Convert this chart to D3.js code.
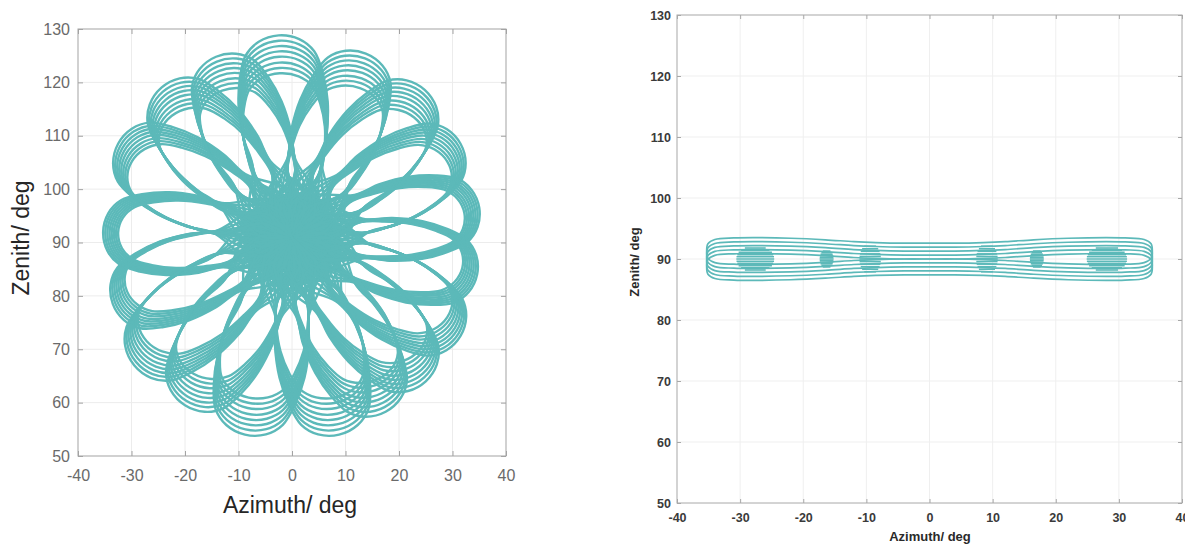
<!DOCTYPE html>
<html>
<head>
<meta charset="utf-8">
<script src="https://cdn.jsdelivr.net/npm/d3@7"></script>
<style>
  body { margin: 0; background: #fff; }
  svg { display: block; font-family: "Liberation Sans", Arial, sans-serif; }
</style>
</head>
<body>
<svg id="chart" width="1185" height="544"></svg>
<script>
// ticks shared by both panels
const azTicks = [-40, -30, -20, -10, 0, 10, 20, 30, 40];
const zenTicks = [50, 60, 70, 80, 90, 100, 110, 120, 130];

// left panel: rosette, one tip per petal (outermost loop)
const roseCenter = [0, 91];
const petalTipAz  = [-2.5, 13.8, 24.8, 31.5, 35.0, 34.6, 31.5, 25.0, 17.5, 8.8, -8.8, -20.0, -29.5, -33.5, -35.3, -32.5, -24.4, -14.2];
const petalTipZen = [128.8, 125.4, 118.6, 108.5, 96.5, 84.0, 72.5, 64.0, 58.3, 54.0, 54.0, 59.5, 67.0, 78.5, 92.0, 108.5, 119.0, 124.8];
// nested loops: top of the top petal, far left edge, and how far the strands
// of each loop pass from the middle (fraction of petal length)
const loopTopZen = [128.8, 127.8, 126.8, 125.8, 124.8, 123.7, 122.7, 121.7];
const loopLeftAz = [-35.3, -34.9, -34.5, -34.1, -33.7, -33.3, -32.9, -32.5];
const loopWaist  = [0.2, 0.17, 0.14, 0.11, 0.08, 0.05, 0.025, 0.0];
// outer part of one petal: fraction of the petal length along its axis / across it
const petalAlong  = [0.36, 0.5, 0.66, 0.8, 0.91, 0.975, 1, 0.975, 0.91, 0.8, 0.66, 0.5, 0.36];
const petalAcross = [-0.17, -0.205, -0.22, -0.205, -0.17, -0.1, 0, 0.1, 0.17, 0.205, 0.22, 0.205, 0.17];
// where the strands run through the middle
const strandAlong = [-0.22, 0, 0.18];

// right panel: flat loops, half height at each azimuth knot
const bandAz = [-35.3, -35.1, -34, -31, -28, -22, -16.5, -12, -8.5, -4, 0, 4, 8.5, 12, 16.5, 22, 28, 31, 34, 35.1, 35.3];
const bandHalf = [0, 1.2, 1.9, 2.15, 2.2, 2.1, 1.85, 1.55, 1.4, 1.3, 1.3, 1.3, 1.4, 1.55, 1.85, 2.1, 2.2, 2.15, 1.9, 1.2, 0];
const bandOffsets = [-1.3, -0.65, 0, 0.65, 1.3];
// dense knots inside the band: centre azimuth, half width, half height
const knotAz = [-27.6, -16.3, -9.4, 9.1, 17.0, 28.1];
const knotHalfW = [3.0, 1.1, 1.7, 1.7, 1.1, 3.2];
const knotHalfH = [1.8, 1.3, 2.1, 2.1, 1.3, 1.8];
// rows of short strokes that make up a knot
const knotRowPos = [-1, -0.8, -0.6, -0.4, -0.2, 0, 0.2, 0.4, 0.6, 0.8, 1];
const knotRowLen = [0.55, 0.75, 0.88, 0.95, 0.99, 1, 0.99, 0.95, 0.88, 0.75, 0.55];

const teal = "#5cb9b9";
const svg = d3.select("#chart");

function frame(x, y, opt) {
  const g = svg.append("g");
  const [x0, x1] = x.range();
  const [y1, y0] = y.range();
  g.append("g").selectAll("line").data(azTicks.slice(1, -1)).join("line")
    .attr("x1", d => x(d)).attr("x2", d => x(d)).attr("y1", y0).attr("y2", y1)
    .attr("stroke", opt.grid).attr("stroke-width", 1);
  g.append("g").selectAll("line").data(zenTicks.slice(1, -1)).join("line")
    .attr("y1", d => y(d)).attr("y2", d => y(d)).attr("x1", x0).attr("x2", x1)
    .attr("stroke", opt.grid).attr("stroke-width", 1);
  return g;
}

function axes(x, y, opt) {
  const [x0, x1] = x.range();
  const [y1, y0] = y.range();
  const fmt = d => String(d);
  const styl = sel => {
    sel.select(".domain").remove();
    sel.selectAll(".tick line").attr("stroke", opt.frame);
    sel.selectAll("text").attr("fill", opt.text).attr("font-size", opt.size)
      .attr("font-weight", opt.weight).attr("font-family", "Liberation Sans, Arial, sans-serif");
  };
  svg.append("g").attr("transform", `translate(0,${y1})`)
    .call(d3.axisBottom(x).tickValues(azTicks).tickFormat(fmt).tickSize(-opt.tick).tickPadding(opt.padX)).call(styl);
  svg.append("g").attr("transform", `translate(${x0},0)`)
    .call(d3.axisLeft(y).tickValues(zenTicks).tickFormat(fmt).tickSize(-opt.tick).tickPadding(opt.padY)).call(styl);
  svg.append("g").attr("transform", `translate(0,${y0})`)
    .call(d3.axisTop(x).tickValues(azTicks).tickSize(-opt.tick).tickFormat("")).call(styl);
  svg.append("g").attr("transform", `translate(${x1},0)`)
    .call(d3.axisRight(y).tickValues(zenTicks).tickSize(-opt.tick).tickFormat("")).call(styl);
  svg.append("rect").attr("x", x0).attr("y", y0).attr("width", x1 - x0).attr("height", y1 - y0)
    .attr("fill", "none").attr("stroke", opt.frame).attr("stroke-width", 1);
}

// ---------- left panel ----------
const xL = d3.scaleLinear().domain([-40, 40]).range([78, 506]);
const yL = d3.scaleLinear().domain([50, 130]).range([456, 29]);
const gL = frame(xL, yL, {grid: "#ececec"});

const loops = [];
loopTopZen.forEach((top, j) => {
  const sz = (top - roseCenter[1]) / (loopTopZen[0] - roseCenter[1]);
  const sa = loopLeftAz[j] / loopLeftAz[0];
  const w = loopWaist[j];
  const outline = strandAlong.map(a => [a, -w])
    .concat(petalAlong.map((a, k) => [a, petalAcross[k]]))
    .concat(strandAlong.slice().reverse().map(a => [a, w]));
  petalTipAz.forEach((ta, i) => {
    const dA = ta - roseCenter[0], dZ = petalTipZen[i] - roseCenter[1];
    loops.push(outline.map(([a, c]) =>
      [roseCenter[0] + sa * (a * dA - c * dZ), roseCenter[1] + sz * (a * dZ + c * dA)]));
  });
});
const lineL = d3.line().x(d => xL(d[0])).y(d => yL(d[1])).curve(d3.curveCatmullRom.alpha(0.5));
gL.append("g").selectAll("path").data(loops).join("path")
  .attr("d", lineL).attr("fill", "none").attr("stroke", teal).attr("stroke-width", 2.4);

axes(xL, yL, {frame: "#a3a3a3", text: "#6a6a6a", size: 16, weight: "normal", tick: 5, padX: 14, padY: 8});

svg.append("text").attr("x", 290).attr("y", 513).attr("text-anchor", "middle")
  .attr("font-size", 23).attr("fill", "#262626").text("Azimuth/ deg");
svg.append("text").attr("transform", "translate(29,238) rotate(-90)").attr("text-anchor", "middle")
  .attr("font-size", 23).attr("fill", "#262626").text("Zenith/ deg");

// ---------- right panel ----------
const xR = d3.scaleLinear().domain([-40, 40]).range([677, 1182]);
const yR = d3.scaleLinear().domain([50, 130]).range([503, 15]);
const gR = frame(xR, yR, {grid: "#efefef"});

const lineR = d3.line().x(d => xR(d[0])).y(d => yR(d[1])).curve(d3.curveCatmullRomClosed.alpha(0.5));
const bandLoops = bandOffsets.map(o => {
  const top = bandAz.map((a, i) => [a, 90 + o + bandHalf[i]]);
  const bottom = bandAz.map((a, i) => [a, 90 + o - bandHalf[i]]).reverse().slice(1, -1);
  return top.concat(bottom);
});
gR.append("g").selectAll("path").data(bandLoops).join("path")
  .attr("d", lineR).attr("fill", "none").attr("stroke", teal).attr("stroke-width", 1.7);

const rows = [];
knotAz.forEach((a, i) => knotRowPos.forEach((p, r) => rows.push({
  a, z: 90 + p * knotHalfH[i], w: knotHalfW[i] * knotRowLen[r]
})));
gR.append("g").selectAll("line").data(rows).join("line")
  .attr("x1", d => xR(d.a - d.w)).attr("x2", d => xR(d.a + d.w))
  .attr("y1", d => yR(d.z)).attr("y2", d => yR(d.z))
  .attr("stroke", teal).attr("stroke-width", 1.6);

axes(xR, yR, {frame: "#a8a8a8", text: "#3a3a3a", size: 12.5, weight: "bold", tick: 4, padX: 10, padY: 6});

svg.append("text").attr("x", 930).attr("y", 541).attr("text-anchor", "middle")
  .attr("font-size", 13).attr("font-weight", "bold").attr("fill", "#2a2a2a").text("Azimuth/ deg");
svg.append("text").attr("transform", "translate(639,262) rotate(-90)").attr("text-anchor", "middle")
  .attr("font-size", 13).attr("font-weight", "bold").attr("fill", "#2a2a2a").text("Zenith/ deg");
</script>
</body>
</html>
